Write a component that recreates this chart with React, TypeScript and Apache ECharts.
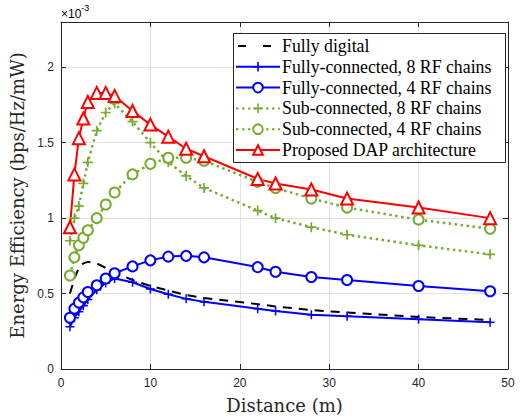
import React, { useEffect, useRef } from "react";
import * as echarts from "echarts";

const distance = [1, 1.5, 2, 2.5, 3, 4, 5, 6, 8, 10, 12, 14, 16, 22, 24, 28, 32, 40, 48];
const fullyDigital = [0.5, 0.6, 0.67, 0.7, 0.71, 0.7, 0.67, 0.64, 0.59, 0.55, 0.52, 0.49, 0.47, 0.43, 0.415, 0.39, 0.375, 0.345, 0.325];
const fullyConn8 = [0.28, 0.34, 0.38, 0.42, 0.46, 0.525, 0.57, 0.6, 0.575, 0.53, 0.495, 0.465, 0.445, 0.4, 0.385, 0.36, 0.35, 0.33, 0.31];
const fullyConn4 = [0.34, 0.4, 0.44, 0.475, 0.51, 0.555, 0.6, 0.635, 0.68, 0.72, 0.745, 0.75, 0.74, 0.675, 0.645, 0.61, 0.59, 0.55, 0.515];
const subConn8 = [0.85, 1.0, 1.08, 1.23, 1.37, 1.58, 1.7, 1.76, 1.64, 1.5, 1.37, 1.28, 1.2, 1.05, 1.0, 0.94, 0.89, 0.82, 0.76];
const subConn4 = [0.62, 0.74, 0.82, 0.87, 0.92, 1.0, 1.09, 1.17, 1.29, 1.36, 1.4, 1.4, 1.38, 1.24, 1.2, 1.13, 1.07, 0.99, 0.93];
const proposedDAP = [0.94, 1.29, 1.53, 1.66, 1.77, 1.83, 1.83, 1.81, 1.71, 1.62, 1.54, 1.46, 1.41, 1.26, 1.23, 1.19, 1.13, 1.07, 1.0];

const seriesNames = [
  "Fully digital",
  "Fully-connected, 8 RF chains",
  "Fully-connected, 4 RF chains",
  "Sub-connected, 8 RF chains",
  "Sub-connected, 4 RF chains",
  "Proposed DAP architecture",
];

const BLUE = "#0000FF";
const GREEN = "#77AC30";
const RED = "#FF0000";
const AXIS = "#262626";
const PLUS =
  "path://M-0.17,-1L0.17,-1L0.17,-0.17L1,-0.17L1,0.17L0.17,0.17L0.17,1L-0.17,1L-0.17,0.17L-1,0.17L-1,-0.17L-0.17,-0.17Z";
const DASH_ICON =
  "path://M0,0L0.01,0L0,0.01Z M2,5H10V7H2Z M27,5H35V7H27Z M44,12L43.99,12L44,11.99Z";

function pairs(ys: number[]) {
  return distance.map((x, i) => [x, ys[i]]);
}

export default function App() {
  const ref = useRef<HTMLDivElement>(null);
  useEffect(() => {
    if (!ref.current) return;
    const chart = echarts.init(ref.current, null, { renderer: "svg" });
    const tickLabel = {
      fontFamily: "Liberation Sans",
      fontSize: 12,
      color: AXIS,
    };
    const nameFont = { fontFamily: "DejaVu Serif", fontSize: 18, color: AXIS, fontWeight: "normal" };
    const option: any = {
      animation: false,
      backgroundColor: "#ffffff",
      grid: { left: 61, right: 13, top: 22, bottom: 47, containLabel: false },
      xAxis: [
        {
          type: "value",
          min: 0,
          max: 50,
          interval: 10,
          name: "Distance (m)",
          nameLocation: "middle",
          nameGap: 27,
          nameTextStyle: nameFont,
          axisLine: { show: true, onZero: false, lineStyle: { color: AXIS, width: 1 } },
          axisTick: { show: true, inside: true, length: 5, lineStyle: { color: AXIS } },
          axisLabel: { ...tickLabel, margin: 8 },
          splitLine: { show: true, lineStyle: { color: "#e3e3e3", width: 1 } },
        },
        {
          type: "value",
          position: "top",
          min: 0,
          max: 50,
          interval: 10,
          axisLine: { show: true, onZero: false, lineStyle: { color: AXIS, width: 1 } },
          axisTick: { show: true, inside: true, length: 5, lineStyle: { color: AXIS } },
          axisLabel: { show: false },
          splitLine: { show: false },
        },
      ],
      yAxis: [
        {
          type: "value",
          min: 0,
          max: 2.3,
          interval: 0.5,
          name: "Energy Efficiency (bps/Hz/mW)",
          nameLocation: "middle",
          nameGap: 30,
          nameTextStyle: nameFont,
          axisLine: { show: true, onZero: false, lineStyle: { color: AXIS, width: 1 } },
          axisTick: { show: true, inside: true, length: 5, lineStyle: { color: AXIS } },
          axisLabel: {
            ...tickLabel,
            margin: 7,
            showMaxLabel: false,
            formatter: (v: number) => (Math.abs(v / 0.5 - Math.round(v / 0.5)) < 1e-6 ? String(v) : ""),
          },
          splitLine: { show: true, lineStyle: { color: "#e3e3e3", width: 1 } },
        },
        {
          type: "value",
          position: "right",
          min: 0,
          max: 2.3,
          interval: 0.5,
          axisLine: { show: true, onZero: false, lineStyle: { color: AXIS, width: 1 } },
          axisTick: { show: true, inside: true, length: 5, lineStyle: { color: AXIS } },
          axisLabel: { show: false },
          splitLine: { show: false },
        },
      ],
      legend: {
        show: true,
        orient: "vertical",
        align: "left",
        left: 235,
        top: 37,
        z: 10,
        padding: 0,
        itemGap: 2.8,
        itemWidth: 44,
        itemHeight: 12,
        textStyle: {
          fontFamily: "Liberation Serif",
          fontSize: 17.8,
          color: "#000000",
          lineHeight: 17,
          padding: [0, 0, 0, -3],
        },
        data: [
          { name: seriesNames[0], icon: DASH_ICON, itemStyle: { color: "#000000" } },
          seriesNames[1],
          seriesNames[2],
          seriesNames[3],
          seriesNames[4],
          seriesNames[5],
        ],
      },
      graphic: [
        {
          type: "rect",
          z: 5,
          shape: { x: 233.5, y: 33.5, width: 272, height: 129 },
          style: { fill: "#ffffff", stroke: AXIS, lineWidth: 1 },
        },
        {
          type: "text",
          left: 61,
          top: 3,
          style: {
            text: "{a|×10}{b|-3}",
            rich: {
              a: { fontFamily: "Liberation Sans", fontSize: 12, color: AXIS, padding: [6, 0, 0, 0] },
              b: { fontFamily: "Liberation Sans", fontSize: 9, color: AXIS, padding: [0, 0, 6, 0] },
            },
          },
        },
      ],
      series: [
        {
          name: seriesNames[0],
          type: "line",
          data: pairs(fullyDigital),
          showSymbol: false,
          symbol: "none",
          lineStyle: { color: "#000000", width: 2, type: [9, 7] },
          itemStyle: { color: "#000000" },
        },
        {
          name: seriesNames[1],
          type: "line",
          data: pairs(fullyConn8),
          symbol: PLUS,
          symbolSize: 9,
          lineStyle: { color: BLUE, width: 2 },
          itemStyle: { color: BLUE },
        },
        {
          name: seriesNames[2],
          type: "line",
          data: pairs(fullyConn4),
          symbol: "emptyCircle",
          symbolSize: 10,
          lineStyle: { color: BLUE, width: 2 },
          itemStyle: { color: BLUE, borderWidth: 2 },
        },
        {
          name: seriesNames[3],
          type: "line",
          data: pairs(subConn8),
          symbol: PLUS,
          symbolSize: 10,
          lineStyle: { color: GREEN, width: 2.5, type: [2.5, 3.5] },
          itemStyle: { color: GREEN },
        },
        {
          name: seriesNames[4],
          type: "line",
          data: pairs(subConn4),
          symbol: "emptyCircle",
          symbolSize: 10,
          lineStyle: { color: GREEN, width: 2.5, type: [2.5, 3.5] },
          itemStyle: { color: GREEN, borderWidth: 2.2 },
        },
        {
          name: seriesNames[5],
          type: "line",
          data: pairs(proposedDAP),
          symbol: "emptyTriangle",
          symbolSize: 12,
          lineStyle: { color: RED, width: 2 },
          itemStyle: { color: RED, borderWidth: 2.2 },
        },
      ],
    };
    chart.setOption(option);
    return () => chart.dispose();
  }, []);
  return <div ref={ref} style={{ width: 521, height: 419, position: "absolute", left: 0, top: 0 }} />;
}
